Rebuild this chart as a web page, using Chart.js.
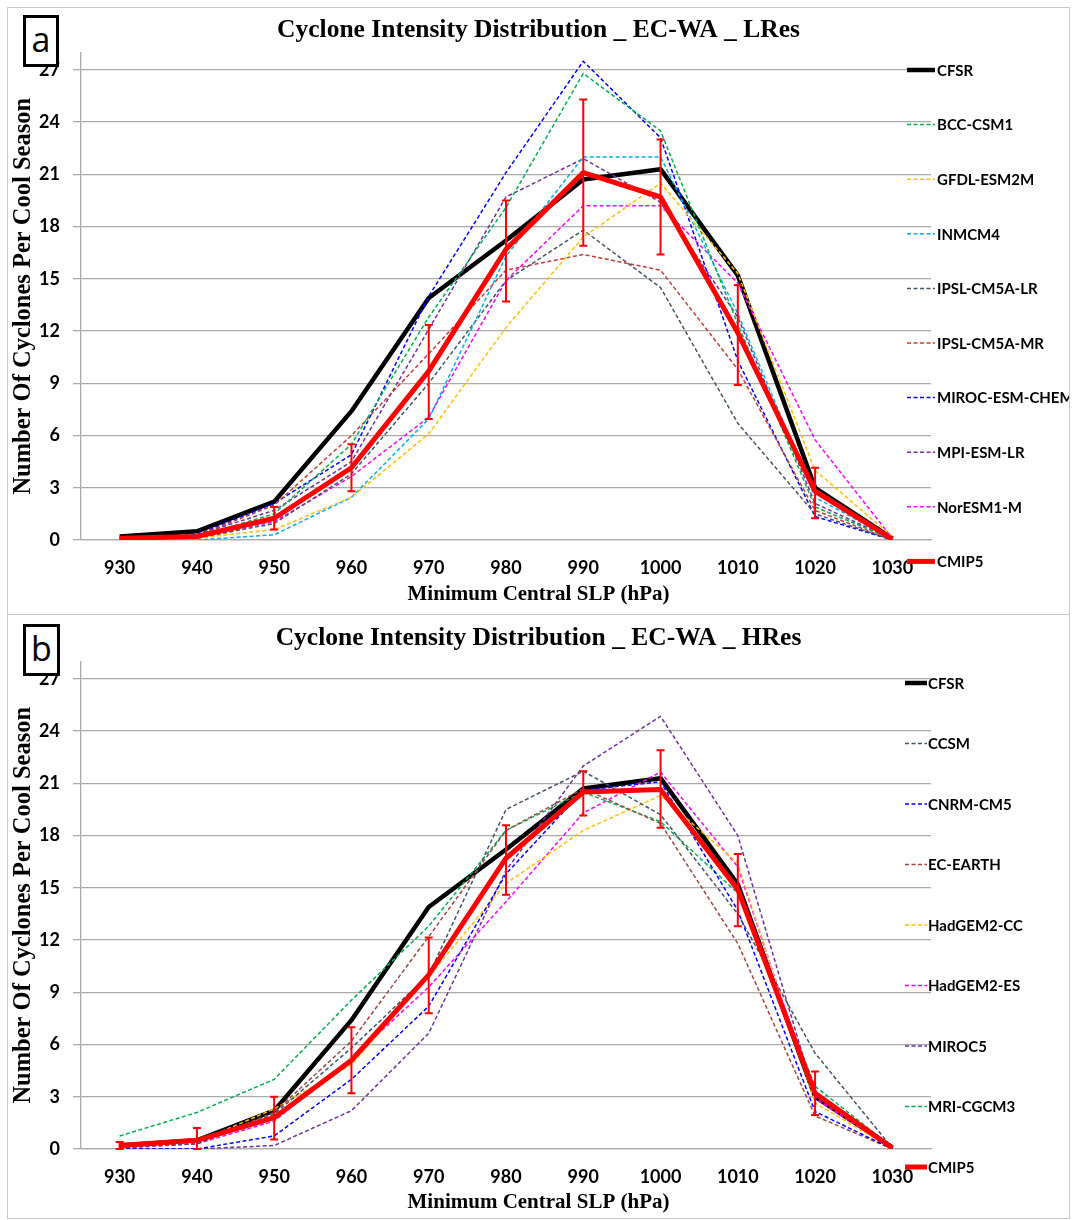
<!DOCTYPE html>
<html><head><meta charset="utf-8">
<script src="https://cdn.jsdelivr.net/npm/chart.js@4.4.0/dist/chart.umd.min.js"></script>
<style>
body{margin:0;background:#fff;width:1072px;height:1220px;position:relative;overflow:hidden}
.frame{position:absolute;border:1px solid #c8c8c8;box-sizing:border-box}
canvas{position:absolute}
.tag{position:absolute;border:3px solid #000;background:#fff;box-sizing:border-box;font-family:'Open Sans',sans-serif;font-size:34px;text-align:center;line-height:42px;color:#000}
</style></head><body>
<div class="frame" style="left:7px;top:7px;width:1063px;height:608px"></div>
<div class="frame" style="left:7px;top:614px;width:1063px;height:605px"></div>
<canvas id="cA" style="left:8px;top:8px;width:1061px;height:605px" width="1061" height="605"></canvas>
<canvas id="cB" style="left:8px;top:616px;width:1061px;height:602px" width="1061" height="602"></canvas>
<div class="tag" style="left:23px;top:15px;width:36px;height:52px">a</div>
<div class="tag" style="left:23px;top:624px;width:37px;height:52px">b</div>
<script>
// ---- data ----
const pressure = ['930','940','950','960','970','980','990','1000','1010','1020','1030'];
const cfsr = [0.2,0.5,2.2,7.4,13.9,17.2,20.7,21.3,15.2,3.0,0.1];

// Panel a (LRes)
const cmip5A   = [0.1,0.2,1.25,4.15,9.7,16.7,21.1,19.7,11.9,2.8,0.05];
const cmip5HiA = [null,null,1.9,5.5,12.35,19.5,25.3,23.0,14.65,4.15,null];
const cmip5LoA = [null,null,0.6,2.8,6.95,13.7,16.9,16.4,8.9,1.25,null];
const bccA    = [0.1,0.2,1.5,5.5,12.8,19.1,26.8,23.5,12.4,1.9,0.05];
const gfdlA   = [0,0.1,0.6,2.45,6.1,12.2,17.4,20.5,15.3,4.0,0.2];
const inmA    = [0,0,0.3,2.45,6.95,16.3,22.0,22.0,13.0,2.45,0.05];
const ipslLrA = [0.05,0.1,0.95,3.8,9.0,14.9,17.8,14.5,6.7,1.5,0];
const ipslMrA = [0.1,0.25,2.0,6.0,10.7,15.5,16.4,15.5,9.8,1.7,0];
const mirocA  = [0.15,0.3,2.1,4.9,14.0,21.1,27.5,23.1,10.3,1.35,0];
const mpiA    = [0.1,0.3,1.7,4.5,12.1,19.7,21.9,19.4,12.8,2.1,0.05];
const norA    = [0.05,0.15,1.05,3.65,7.05,14.9,19.2,19.2,14.75,5.75,0.1];

// Panel b (HRes)
const cmip5B   = [0.2,0.5,1.8,5.1,10.0,16.7,20.5,20.65,14.9,3.2,0.05];
const cmip5HiB = [0.4,1.2,3.0,7.0,12.15,18.6,21.7,22.9,16.95,4.45,null];
const cmip5LoB = [0.0,0.0,0.55,3.2,7.8,14.6,19.15,18.45,12.8,1.95,null];
const ccsmB    = [0.1,0.3,2.0,5.8,10.0,19.5,21.7,19.2,13.5,5.5,0.05];
const cnrmB    = [0,0,0.75,4.0,8.2,15.8,20.6,21.1,13.7,2.15,0];
const ecB      = [0.1,0.3,2.1,6.2,12.2,18.3,20.7,18.7,11.8,1.9,0];
const hadccB   = [0.1,0.4,2.3,4.85,9.9,15.25,18.3,20.3,16.4,2.65,0];
const hadesB   = [0.05,0.3,1.6,5.2,9.3,14.2,19.3,21.65,16.2,2.9,0];
const miroc5B  = [0,0,0.2,2.2,6.65,16.0,22.0,24.85,18.0,3.0,0.05];
const mriB     = [0.75,2.1,4.0,8.55,12.8,18.3,20.5,18.8,14.7,3.6,0.1];

const yTicksMax = 28;

// ---- plugins ----
function errorBarPlugin(hi, lo){
  return {id:'errBars', afterDatasetsDraw(chart){
    const xs = chart.scales.x, ys = chart.scales.y, ctx = chart.ctx;
    ctx.save(); ctx.strokeStyle = '#FF0000'; ctx.lineWidth = 2; ctx.setLineDash([]);
    hi.forEach((h,i)=>{
      if(h==null || lo[i]==null) return;
      const px = xs.getPixelForValue(i), p1 = ys.getPixelForValue(h), p2 = ys.getPixelForValue(lo[i]);
      ctx.beginPath();
      ctx.moveTo(px,p1); ctx.lineTo(px,p2);
      ctx.moveTo(px-4,p1); ctx.lineTo(px+4,p1);
      ctx.moveTo(px-4,p2); ctx.lineTo(px+4,p2);
      ctx.stroke();
    });
    ctx.restore();
  }};
}
function sideLegendPlugin(lg){
  return {id:'sideLegend', afterDraw(chart){
    const ctx = chart.ctx; ctx.save();
    ctx.font = 'bold 15px Lato'; ctx.textBaseline = 'middle'; ctx.textAlign = 'left'; ctx.fillStyle = '#000';
    chart.data.datasets.forEach((ds,i)=>{
      const y = lg.y0 + i*lg.dy;
      ctx.strokeStyle = ds.borderColor; ctx.lineWidth = ds.borderWidth;
      ctx.setLineDash(ds.borderDash || []);
      ctx.beginPath(); ctx.moveTo(lg.x0,y); ctx.lineTo(lg.x1,y); ctx.stroke();
      ctx.fillText(ds.label, lg.tx, y+1);
    });
    ctx.restore();
  }};
}

function makePanel(id, cfg){
  const ds = [{label:'CFSR', data:cfsr, borderColor:'#000000', borderWidth:4.5, order:20}];
  cfg.models.forEach(m=>ds.push({label:m.name, data:m.data, borderColor:m.color, borderWidth:1.5, borderDash:[4,2.5], order:10}));
  ds.push({label:'CMIP5', data:cfg.cmip5, borderColor:'#FF0000', borderWidth:5, order:0});
  const grid = '#ababab';
  new Chart(document.getElementById(id), {
    type:'line',
    data:{labels:pressure, datasets:ds},
    options:{
      responsive:false, animation:false, events:[],
      layout:{padding:0},
      elements:{point:{radius:0,hoverRadius:0}, line:{tension:0, borderJoinStyle:'round', borderCapStyle:'butt', fill:false}},
      plugins:{
        legend:{display:false}, tooltip:{enabled:false},
        title:{display:true, text:cfg.title, color:'#000',
          font:{family:'"Liberation Serif"', size:25.5, weight:'bold', lineHeight:1.2},
          padding:{top:6.7, bottom:cfg.titleBottom}},
        subtitle:{display:true, position:'bottom', text:'Minimum Central SLP (hPa)', color:'#000',
          font:{family:'"Liberation Serif"', size:21, weight:'bold', lineHeight:1.2},
          padding:{top:0, bottom:cfg.subBottom}}
      },
      scales:{
        x:{type:'category', offset:true,
          grid:{display:false},
          border:{display:true, color:grid, width:1.3},
          ticks:{color:'#000', font:{family:'Lato', size:18, weight:'bold'}, padding:9, maxRotation:0, autoSkip:false},
          afterFit(s){ s.height = cfg.xHeight; }},
        y:{min:0, max:yTicksMax,
          grid:{color:grid, lineWidth:1.3, tickLength:8, drawTicks:true},
          border:{color:grid, width:1.3},
          ticks:{stepSize:3, includeBounds:false, color:'#000', font:{family:'Lato', size:18, weight:'bold'}, padding:13},
          title:{display:true, text:'Number Of Cyclones Per Cool Season', color:'#000',
            font:{family:'"Liberation Serif"', size:24.5, weight:'bold', lineHeight:1.2}, padding:{top:1, bottom:0}},
          afterFit(s){ s.width = 73; }},
        yR:{position:'right', display:true, grid:{display:false}, border:{display:false}, ticks:{display:false},
          afterFit(s){ s.width = 138; }}
      }
    },
    plugins:[errorBarPlugin(cfg.hi, cfg.lo), sideLegendPlugin(cfg.legend)]
  });
}

makePanel('cA', {
  title:'Cyclone Intensity Distribution _ EC-WA _ LRes',
  titleBottom:7.2, subBottom:5.4, xHeight:42.4,
  cmip5:cmip5A, hi:cmip5HiA, lo:cmip5LoA,
  models:[
    {name:'BCC-CSM1', data:bccA, color:'#00B050'},
    {name:'GFDL-ESM2M', data:gfdlA, color:'#FFC000'},
    {name:'INMCM4', data:inmA, color:'#00B0F0'},
    {name:'IPSL-CM5A-LR', data:ipslLrA, color:'#44546A'},
    {name:'IPSL-CM5A-MR', data:ipslMrA, color:'#C43C39'},
    {name:'MIROC-ESM-CHEM', data:mirocA, color:'#0000FF'},
    {name:'MPI-ESM-LR', data:mpiA, color:'#7030A0'},
    {name:'NorESM1-M', data:norA, color:'#FF00FF'}
  ],
  legend:{x0:899, x1:927, tx:929, y0:62, dy:54.6}
});

makePanel('cB', {
  title:'Cyclone Intensity Distribution _ EC-WA _ HRes',
  titleBottom:8.2, subBottom:2.4, xHeight:41.4,
  cmip5:cmip5B, hi:cmip5HiB, lo:cmip5LoB,
  models:[
    {name:'CCSM', data:ccsmB, color:'#44546A'},
    {name:'CNRM-CM5', data:cnrmB, color:'#0000FF'},
    {name:'EC-EARTH', data:ecB, color:'#9B4A40'},
    {name:'HadGEM2-CC', data:hadccB, color:'#FFC000'},
    {name:'HadGEM2-ES', data:hadesB, color:'#FF00FF'},
    {name:'MIROC5', data:miroc5B, color:'#7030A0'},
    {name:'MRI-CGCM3', data:mriB, color:'#00B050'}
  ],
  legend:{x0:897, x1:919, tx:920, y0:67, dy:60.5}
});
</script>
</body></html>
